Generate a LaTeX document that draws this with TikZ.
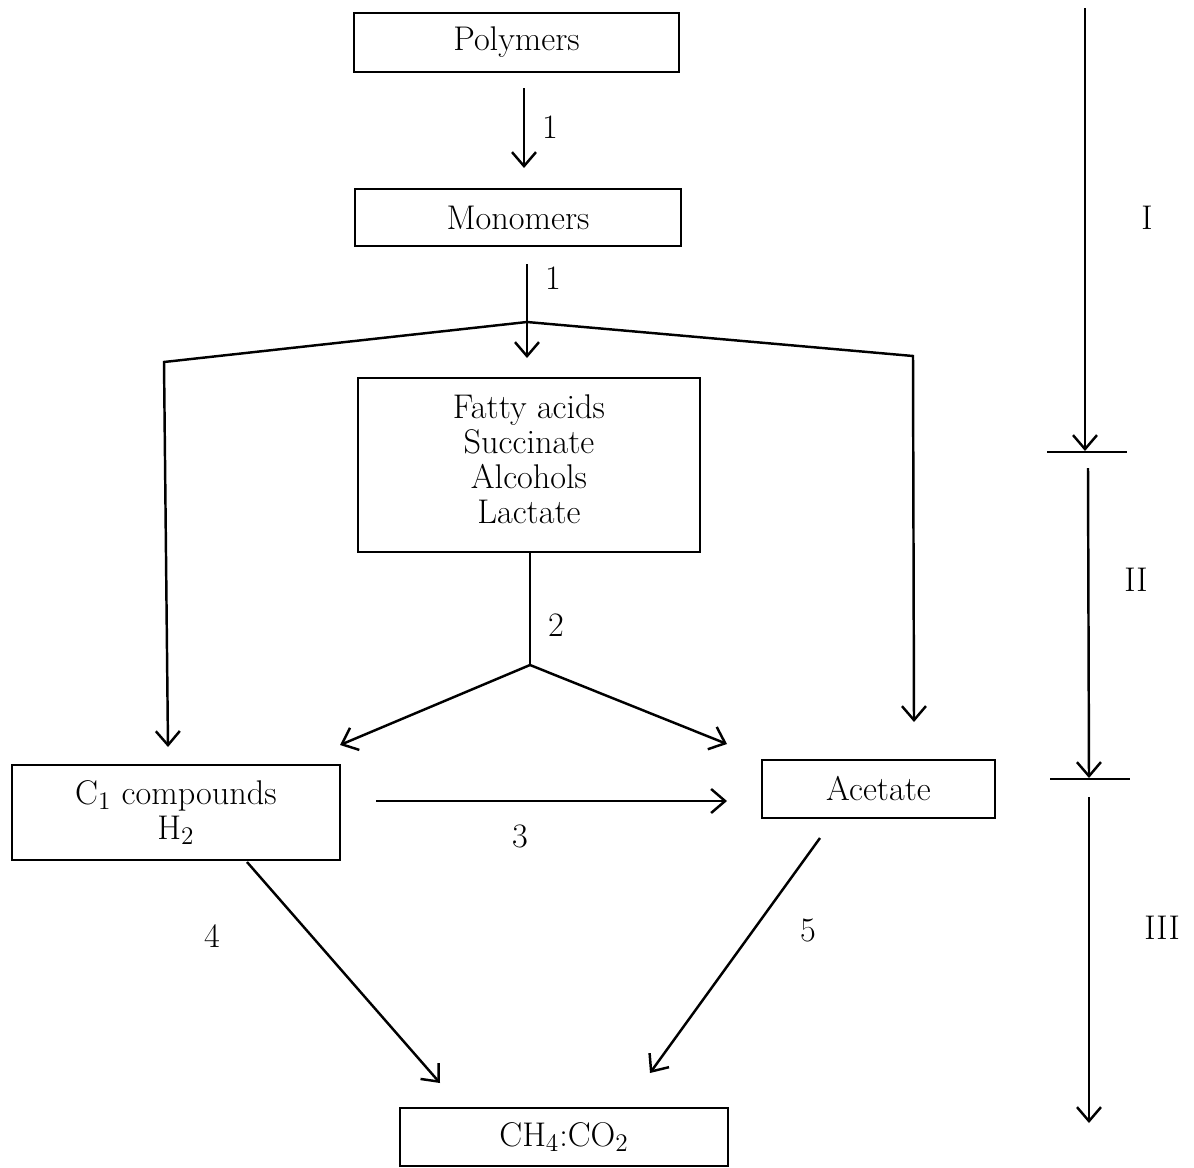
\documentclass[tikz,border=0pt]{standalone}
\usetikzlibrary{arrows.meta}
\begin{document}
\begin{tikzpicture}[x=0.02cm,y=-0.02cm,
  box/.style={draw,line width=1.1pt,rectangle,inner sep=0pt,align=center,font=\fontsize{19.5}{19.8}\selectfont},
  lbl/.style={font=\fontsize{19.5}{20}\selectfont,inner sep=0pt},
  arr/.style={line width=1.4pt,-{Straight Barb[length=0.28cm,width=0.48cm,line width=1.4pt]}},
  ln/.style={line width=1.4pt}]
\useasboundingbox (0,0) rectangle (1194,1167);
% boxes
\node[box,minimum width=6.5cm,minimum height=1.18cm] (poly) at (516.5,42.5) {Polymers};
\node[box,minimum width=6.52cm,minimum height=1.14cm] (mono) at (518,217.5) {Monomers};
\node[box,minimum width=6.84cm,minimum height=3.48cm] (fatty) at (529,465) {Fatty acids\\Succinate\\Alcohols\\Lactate\\[-13pt]\mbox{}};
\node[box,minimum width=6.56cm,minimum height=1.9cm] (c1) at (176,812.5) {C$_1$ compounds\\H$_2$};
\node[box,minimum width=4.66cm,minimum height=1.16cm] (acet) at (878.5,789) {Acetate};
\node[box,minimum width=6.56cm,minimum height=1.16cm] (ch4) at (564,1137) {CH$_4$:CO$_2$};
% coordinates
\coordinate (a1s) at (524,88);
\coordinate (a1e) at (524,168);
\coordinate (m1) at (527,264);
\coordinate (mj) at (527,322);
\coordinate (m1e) at (527,358);
\coordinate (lc) at (164,362);
\coordinate (le) at (168,747);
\coordinate (rc) at (913,356);
\coordinate (re) at (914,722);
\coordinate (f1) at (530,552);
\coordinate (fj) at (530,665);
\coordinate (fl) at (340,745);
\coordinate (fr) at (727,744);
\coordinate (t3s) at (376,801);
\coordinate (t3e) at (727,801);
\coordinate (t4s) at (247,862);
\coordinate (t4e) at (440,1083);
\coordinate (t5s) at (820,838);
\coordinate (t5e) at (650,1073);
\coordinate (r1s) at (1085,8);
\coordinate (r1e) at (1085,451);
\coordinate (r2s) at (1088,468);
\coordinate (r2e) at (1089,778);
\coordinate (r3s) at (1089,797);
\coordinate (r3e) at (1089,1123);
\coordinate (k1a) at (1047,452);
\coordinate (k1b) at (1127,452);
\coordinate (k2a) at (1050,779);
\coordinate (k2b) at (1130,779);
% connectors
\draw[arr] (a1s) -- (a1e);
\draw[arr] (m1) -- (m1e);
\draw[arr] (mj) -- (lc) -- (le);
\draw[arr] (mj) -- (rc) -- (re);
\draw[ln] (f1) -- (fj);
\draw[arr] (fj) -- (fl);
\draw[arr] (fj) -- (fr);
\draw[arr] (t3s) -- (t3e);
\draw[arr] (t4s) -- (t4e);
\draw[arr] (t5s) -- (t5e);
\draw[arr] (r1s) -- (r1e);
\draw[arr] (r2s) -- (r2e);
\draw[arr] (r3s) -- (r3e);
\draw[ln] (k1a) -- (k1b);
\draw[ln] (k2a) -- (k2b);
% labels
\node[lbl] (l1a) at (550,127) {1};
\node[lbl] (l1b) at (553,278) {1};
\node[lbl] (l2) at (556,625) {2};
\node[lbl] (l3) at (520,836) {3};
\node[lbl] (l4) at (212,936) {4};
\node[lbl] (l5) at (808,930) {5};
\node[lbl] (sI) at (1147,218) {I};
\node[lbl] (sII) at (1136,580) {II};
\node[lbl] (sIII) at (1162,928) {III};
\end{tikzpicture}
\end{document}
